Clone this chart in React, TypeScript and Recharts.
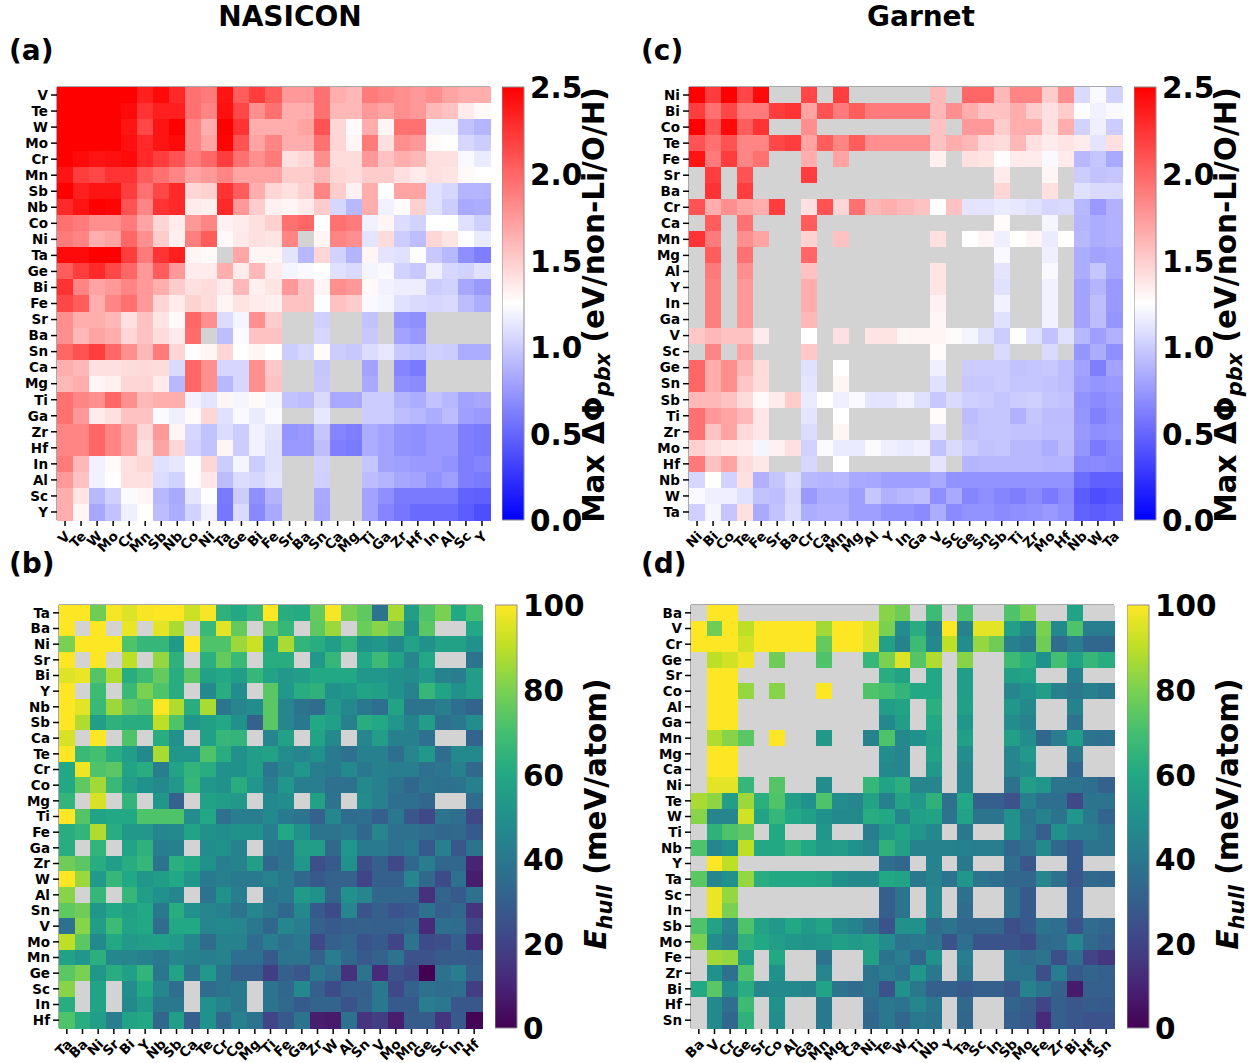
import { BarChart, Bar, Scatter, ScatterChart, XAxis, YAxis } from "recharts";

const _ = null;

const nasiconPbxLabels = ["V","Te","W","Mo","Cr","Mn","Sb","Nb","Co","Ni","Ta","Ge","Bi","Fe","Sr","Ba","Sn","Ca","Mg","Ti","Ga","Zr","Hf","In","Al","Sc","Y"];
const garnetPbxLabels = ["Ni","Bi","Co","Te","Fe","Sr","Ba","Cr","Ca","Mn","Mg","Al","Y","In","Ga","V","Sc","Ge","Sn","Sb","Ti","Zr","Mo","Hf","Nb","W","Ta"];
const nasiconHullLabels = ["Ta","Ba","Ni","Sr","Bi","Y","Nb","Sb","Ca","Te","Cr","Co","Mg","Ti","Fe","Ga","Zr","W","Al","Sn","V","Mo","Mn","Ge","Sc","In","Hf"];
const garnetHullLabels = ["Ba","V","Cr","Ge","Sr","Co","Al","Ga","Mn","Mg","Ca","Ni","Te","W","Ti","Nb","Y","Ta","Sc","In","Sb","Mo","Fe","Zr","Bi","Hf","Sn"];

// rows top to bottom
const nasiconPbx = [
  [2.5,2.5,2.5,2.5,2.5,2.35,2.45,2.3,1.95,1.9,2.4,2.05,2.2,2.05,1.75,1.75,1.95,1.65,1.6,1.9,1.85,1.8,1.75,1.8,1.7,1.65,1.65],
  [2.5,2.5,2.5,2.5,2.45,2.25,2.35,2.35,1.95,1.85,2.42,2.15,1.8,1.95,1.65,1.65,1.95,1.6,1.6,1.75,1.7,1.8,1.75,1.6,1.55,1.35,1.28],
  [2.5,2.5,2.5,2.5,2.4,2.15,2.4,2.5,1.85,1.65,2.5,2.25,1.65,1.65,1.65,1.7,2.1,1.45,1.28,1.65,1.3,1.95,1.95,1.18,1.18,0.95,0.88],
  [2.5,2.5,2.5,2.5,2.42,2.3,2.4,2.45,1.85,1.7,2.48,2.1,1.7,1.85,1.65,1.65,1.95,1.45,1.3,1.9,1.4,1.8,1.75,1.27,1.25,1.05,1.0],
  [2.5,2.45,2.4,2.42,2.45,2.3,2.2,2.1,1.9,2.0,2.2,1.95,1.8,1.9,1.4,1.45,1.8,1.42,1.42,1.75,1.55,1.65,1.6,1.4,1.4,1.22,1.15],
  [2.4,2.2,2.15,2.25,2.25,2.05,1.95,1.85,1.7,1.75,1.85,1.7,1.7,1.7,1.5,1.5,1.6,1.45,1.42,1.5,1.5,1.4,1.35,1.4,1.38,1.28,1.25],
  [2.5,2.35,2.4,2.4,2.2,1.95,2.15,2.3,1.45,1.48,2.25,2.05,1.65,1.45,1.4,1.48,1.85,1.5,1.32,1.65,1.25,1.7,1.7,1.1,1.05,0.88,0.88],
  [2.3,2.4,2.5,2.48,2.1,1.85,2.25,2.3,1.35,1.33,2.3,1.75,1.5,1.32,1.3,1.35,1.5,1.05,0.9,1.65,1.18,1.27,1.48,1.1,1.0,0.83,0.85],
  [1.95,1.9,1.8,1.8,1.9,1.7,1.45,1.35,1.75,1.85,1.32,1.35,1.4,1.48,1.95,2.0,1.25,1.95,1.9,1.18,1.3,1.08,1.03,1.25,1.25,1.1,1.02],
  [1.9,1.85,1.65,1.7,2.0,1.8,1.5,1.33,1.88,2.05,1.28,1.36,1.4,1.38,1.85,_,1.3,1.85,1.8,1.12,1.42,1.0,0.93,1.45,1.38,1.25,1.15],
  [2.45,2.45,2.5,2.5,2.2,1.9,2.25,2.35,1.3,1.28,_,1.68,1.3,1.3,1.12,0.9,1.45,1.03,0.88,1.3,1.12,1.1,1.24,0.98,0.9,0.7,0.62],
  [2.05,2.2,2.3,2.15,2.0,1.75,2.05,1.75,1.35,1.35,1.65,1.35,1.6,1.35,1.2,1.22,1.25,1.1,1.07,1.2,1.22,1.03,0.98,1.17,1.05,1.03,1.1],
  [2.25,1.85,1.7,1.75,1.85,1.75,1.65,1.5,1.4,1.42,1.35,1.6,1.33,1.38,1.75,1.55,1.3,1.8,1.75,1.28,1.18,1.16,1.16,1.0,1.03,0.82,0.75],
  [2.15,2.05,1.65,1.85,1.95,1.75,1.45,1.35,1.47,1.42,1.3,1.38,1.35,1.33,1.55,1.55,1.25,1.55,1.5,1.22,1.2,1.1,1.07,1.05,1.07,0.92,0.85],
  [1.8,1.65,1.65,1.6,1.4,1.55,1.38,1.28,2.0,1.8,1.08,1.2,1.8,1.5,_,_,1.02,_,_,0.95,_,0.73,0.7,_,_,_,_],
  [1.8,1.6,1.7,1.65,1.45,1.55,1.42,1.35,1.97,_,0.93,1.23,1.55,1.55,_,_,1.05,_,_,0.98,_,0.8,0.75,_,_,_,_],
  [2.0,2.1,2.2,2.0,1.8,1.6,1.9,1.45,1.26,1.3,1.45,1.25,1.3,1.25,1.0,1.05,1.27,1.0,0.98,1.08,1.13,0.98,0.95,1.02,1.0,0.85,0.85],
  [1.65,1.6,1.4,1.4,1.42,1.43,1.42,1.07,2.0,1.8,1.05,1.05,1.8,1.52,_,_,0.97,_,_,0.8,_,0.65,0.6,_,_,_,_],
  [1.6,1.65,1.3,1.33,1.45,1.45,1.35,0.9,2.0,1.8,0.9,1.05,1.8,1.55,_,_,0.98,_,_,0.83,_,0.7,0.68,_,_,_,_],
  [1.95,1.85,1.8,2.0,1.8,1.6,1.65,1.65,1.18,1.12,1.3,1.2,1.28,1.2,0.95,0.93,1.07,0.83,0.83,1.0,1.0,0.88,0.85,0.95,0.9,0.8,0.82],
  [1.95,1.75,1.35,1.4,1.55,1.55,1.23,1.17,1.28,1.45,1.1,1.22,1.15,1.23,_,_,1.13,_,_,1.0,1.0,0.93,0.9,0.85,0.92,0.78,0.75],
  [1.85,1.85,2.0,1.85,1.7,1.45,1.75,1.3,1.05,0.95,1.08,1.0,1.18,1.12,0.73,0.75,0.97,0.65,0.62,0.85,0.8,0.72,0.7,0.75,0.75,0.62,0.6],
  [1.85,1.85,2.0,1.85,1.7,1.4,1.7,1.45,1.03,0.95,1.3,1.0,1.18,1.1,0.75,0.75,0.93,0.62,0.6,0.85,0.8,0.72,0.7,0.75,0.75,0.62,0.6],
  [1.9,1.6,1.18,1.28,1.4,1.45,1.1,1.13,1.25,1.45,1.0,1.2,1.0,1.1,_,_,1.03,_,_,0.97,0.8,0.78,0.75,0.75,0.72,0.62,0.65],
  [1.75,1.55,1.18,1.25,1.4,1.4,1.08,1.03,1.26,1.37,0.92,1.08,1.05,1.12,_,_,1.02,_,_,0.92,0.88,0.82,0.8,0.72,0.78,0.62,0.6],
  [1.65,1.38,0.9,1.02,1.23,1.3,0.9,0.83,1.12,1.25,0.6,1.0,0.7,0.88,_,_,0.83,_,_,0.8,0.7,0.6,0.6,0.6,0.6,0.48,0.47],
  [1.65,1.3,0.82,0.95,1.17,1.25,0.92,0.85,1.03,1.18,0.58,1.07,0.67,0.83,_,_,0.82,_,_,0.8,0.65,0.58,0.52,0.52,0.52,0.45,0.38],
];

const garnetPbx = [
  [2.5,2.2,2.5,2.15,2.45,_,_,2.15,_,2.2,_,_,_,_,_,1.6,_,2.0,2.0,1.6,1.85,1.85,1.5,1.8,1.07,1.22,1.03],
  [2.2,1.95,2.15,1.9,1.9,2.2,2.25,1.7,2.1,1.9,2.05,1.9,1.9,1.9,1.9,1.6,1.8,1.65,1.55,1.55,1.65,1.5,1.4,1.5,1.25,1.18,1.22],
  [2.5,2.1,2.45,2.05,2.25,_,_,1.8,_,_,_,_,_,_,_,1.55,_,1.75,1.75,1.5,1.65,1.65,1.4,1.65,1.03,1.17,1.0],
  [2.1,1.95,2.1,1.85,1.85,2.15,2.2,1.7,2.05,1.85,2.05,1.8,1.8,1.8,1.8,1.55,1.65,1.6,1.45,1.42,1.6,1.4,1.35,1.38,1.35,1.12,1.4],
  [2.4,1.9,2.2,1.85,1.95,_,_,1.65,_,1.7,_,_,_,_,_,1.33,_,1.4,1.38,1.26,1.35,1.35,1.22,1.35,0.9,0.97,0.83],
  [_,2.2,_,2.1,_,_,_,2.2,_,_,_,_,_,_,_,_,_,_,_,1.35,_,_,1.3,_,1.0,0.95,0.97],
  [_,2.25,_,2.2,_,_,_,_,_,_,_,_,_,_,_,_,_,_,_,1.45,_,_,1.4,_,1.1,1.07,1.07],
  [2.1,1.65,1.8,1.7,1.65,2.2,_,1.4,2.1,1.45,1.95,1.6,1.65,1.6,1.55,1.25,1.55,1.12,1.12,1.15,1.13,1.1,1.05,1.07,0.9,0.75,0.87],
  [_,2.05,_,1.95,_,_,_,2.05,_,_,_,_,_,_,_,_,_,_,_,1.27,_,_,1.2,_,0.88,0.85,0.87],
  [2.25,1.9,_,1.8,1.7,_,_,1.47,_,1.55,_,_,_,_,_,1.4,_,1.25,1.3,1.17,1.25,1.3,1.15,1.25,0.9,0.85,0.87],
  [_,2.05,_,1.95,_,_,_,2.0,_,_,_,_,_,_,_,_,_,_,_,1.22,_,_,1.17,_,0.85,0.8,0.82],
  [_,1.9,_,1.8,_,_,_,1.55,_,_,_,_,_,_,_,1.38,_,_,_,1.12,_,_,1.22,_,0.85,0.97,0.82],
  [_,1.88,_,1.75,_,_,_,1.65,_,_,_,_,_,_,_,1.38,_,_,_,1.1,_,_,1.18,_,0.8,0.88,0.75],
  [_,1.88,_,1.75,_,_,_,1.65,_,_,_,_,_,_,_,1.32,_,_,_,1.18,_,_,1.18,_,0.8,0.93,0.75],
  [_,1.88,_,1.75,_,_,_,1.6,_,_,_,_,_,_,_,1.3,_,_,_,1.1,_,_,1.18,_,0.8,0.92,0.73],
  [1.52,1.6,1.55,1.55,1.35,_,_,1.25,_,1.4,_,1.38,1.38,1.3,1.3,1.3,1.27,1.2,1.1,1.0,1.25,1.1,0.95,1.1,0.9,0.78,0.87],
  [_,1.85,_,1.7,_,_,_,1.52,_,_,_,_,_,_,_,1.27,_,_,_,1.07,_,_,1.07,_,0.73,0.85,0.7],
  [2.0,1.65,1.8,1.6,1.42,_,_,1.1,_,1.25,_,_,_,_,_,1.17,_,1.0,1.0,1.0,0.95,0.97,0.98,0.93,0.8,0.62,0.8],
  [2.0,1.65,1.8,1.53,1.42,_,_,1.12,_,1.3,_,_,_,_,_,1.1,_,0.98,0.98,1.0,0.97,0.97,0.95,0.93,0.77,0.73,0.75],
  [1.6,1.6,1.55,1.42,1.28,1.35,1.5,1.15,1.25,1.17,1.22,1.12,1.12,1.18,1.1,0.98,1.07,1.02,1.0,0.97,1.0,1.02,0.97,0.95,0.72,0.68,0.72],
  [1.95,1.75,1.7,1.6,1.37,_,_,1.12,_,1.25,_,_,_,_,_,1.27,_,0.92,0.97,0.97,0.87,0.97,0.92,0.92,0.73,0.63,0.7],
  [1.95,1.55,1.7,1.43,1.37,_,_,1.08,_,1.3,_,_,_,_,_,1.12,_,0.95,0.97,0.97,0.95,0.95,0.93,0.93,0.75,0.7,0.72],
  [1.48,1.4,1.37,1.35,1.2,1.32,1.4,1.03,1.23,1.15,1.15,1.23,1.17,1.15,1.17,0.95,1.07,1.0,0.95,0.97,0.9,0.9,0.85,0.92,0.73,0.6,0.67],
  [1.9,1.55,1.7,1.42,1.37,_,_,1.05,_,1.25,_,_,_,_,_,1.12,_,0.88,0.9,0.9,0.9,0.9,0.88,0.88,0.67,0.68,0.65],
  [1.05,1.25,1.03,1.4,0.87,0.97,1.08,0.9,0.88,0.9,0.83,0.82,0.78,0.78,0.78,0.83,0.72,0.72,0.72,0.72,0.72,0.72,0.72,0.72,0.53,0.47,0.47],
  [1.22,1.17,1.17,1.1,0.95,0.93,1.05,0.75,0.85,0.85,0.78,0.97,0.87,0.9,0.93,0.7,0.83,0.65,0.7,0.65,0.62,0.68,0.6,0.68,0.45,0.38,0.42],
  [1.02,1.2,0.97,1.4,0.83,0.95,1.07,0.85,0.87,0.87,0.78,0.78,0.72,0.72,0.68,0.85,0.68,0.72,0.72,0.68,0.7,0.72,0.75,0.7,0.48,0.45,0.48],
];

const nasiconHull = [
  [100,100,78,99,95,99,100,100,92,99,64,60,66,100,62,61,76,99,80,75,38,87,55,72,80,60,70],
  [100,_,100,_,97,_,96,87,_,67,96,76,_,75,66,_,75,85,_,77,82,76,50,74,_,_,60],
  [80,100,100,100,72,66,66,54,100,72,72,85,92,60,87,65,62,55,64,50,52,47,58,50,57,57,50],
  [100,_,100,_,90,_,84,64,_,63,76,67,_,62,62,_,53,66,_,60,68,58,45,60,_,_,38],
  [95,97,73,88,62,68,76,62,74,57,60,55,66,58,53,55,60,60,60,52,52,50,48,53,44,42,55],
  [100,_,68,_,67,80,72,62,_,47,62,48,_,74,53,62,64,50,52,58,56,50,44,66,58,50,55],
  [100,96,67,85,75,72,100,88,62,87,39,45,48,74,45,38,35,53,47,40,36,58,38,38,42,36,32],
  [100,88,55,64,62,62,90,72,52,56,60,50,31,74,45,40,60,56,43,62,60,52,44,55,37,40,48],
  [94,_,100,_,72,_,62,50,_,56,66,65,_,45,57,_,58,47,_,45,55,43,43,37,_,_,32],
  [100,67,70,62,55,47,87,52,52,72,62,50,55,57,48,46,50,41,37,43,43,36,45,53,35,47,47],
  [60,98,72,74,58,62,42,58,65,62,50,50,55,39,46,52,42,41,47,40,43,42,42,37,39,43,34],
  [60,75,86,67,55,50,47,53,66,52,50,62,52,42,52,42,42,37,37,47,43,38,33,38,37,38,43],
  [65,_,94,_,65,_,52,31,_,57,55,53,_,47,48,_,57,38,_,48,43,36,36,33,_,_,35],
  [100,73,58,60,60,72,72,72,48,60,37,42,42,47,41,38,31,46,35,36,30,40,27,22,38,36,22],
  [62,65,88,62,53,53,46,47,58,50,48,50,50,42,60,50,38,38,41,33,45,37,37,35,33,34,28],
  [62,_,65,_,58,64,42,43,_,48,50,44,_,40,38,55,55,34,52,41,41,37,40,28,43,27,38],
  [78,74,62,55,62,66,38,63,60,50,42,44,55,33,38,52,24,28,50,24,30,22,33,42,33,33,10],
  [100,85,54,66,60,52,55,60,52,41,43,41,41,44,40,33,28,31,31,20,30,30,45,34,23,37,8],
  [82,_,66,_,66,55,50,46,_,38,50,42,_,38,40,54,50,32,50,45,33,33,33,14,32,28,37],
  [75,78,52,60,56,60,40,62,50,45,43,38,46,40,33,47,28,23,45,26,30,26,28,37,30,33,15],
  [37,82,55,68,58,60,35,60,60,45,47,45,40,33,46,42,31,28,30,31,30,30,33,12,36,35,22],
  [90,74,47,60,54,55,56,54,46,35,44,44,35,42,37,40,22,30,33,26,28,20,38,23,24,30,12],
  [57,52,63,46,45,43,40,46,44,42,44,36,36,28,38,38,31,42,34,28,31,38,25,25,29,29,28],
  [74,80,52,62,56,65,39,58,38,53,38,30,30,18,30,27,40,35,14,38,12,25,22,0,37,42,30],
  [82,_,58,_,48,60,46,36,_,35,38,40,_,38,33,47,30,23,30,30,40,22,31,37,35,36,18],
  [62,_,58,_,47,54,40,40,_,50,44,40,_,38,34,28,32,32,25,31,40,28,28,42,40,27,27],
  [72,62,55,42,58,60,33,55,30,50,33,43,38,20,28,38,8,7,37,15,18,8,29,29,15,28,1],
];

const garnetHull = [
  [_,100,100,_,_,_,_,_,_,_,_,_,82,78,_,68,_,72,_,_,72,80,_,_,58,_,_],
  [100,78,100,90,100,100,100,100,86,100,100,95,80,48,62,44,100,44,96,96,56,47,80,47,72,42,42],
  [100,100,100,93,100,100,100,100,76,100,100,95,57,44,68,47,90,48,84,78,43,40,78,35,42,33,33],
  [_,90,93,98,_,78,_,_,72,_,_,66,80,95,73,88,_,82,_,_,68,63,50,70,57,66,62],
  [_,100,100,_,_,_,_,_,_,_,_,_,62,58,_,60,_,55,_,_,56,58,_,_,43,_,_],
  [_,100,100,84,_,82,_,_,100,_,_,72,70,65,60,60,_,55,_,_,45,50,55,43,40,43,40],
  [_,100,100,_,_,_,_,_,_,_,_,_,55,58,_,63,_,56,_,_,52,47,_,_,44,_,_],
  [_,100,100,_,_,_,_,_,_,_,_,_,47,55,_,60,_,52,_,_,48,44,_,_,38,_,_],
  [_,88,82,74,_,100,_,_,53,_,_,44,72,47,50,56,_,56,_,_,56,48,33,42,55,38,37],
  [_,100,100,_,_,_,_,_,_,_,_,_,48,45,_,58,_,48,_,_,46,53,_,_,40,_,_],
  [_,100,100,_,_,_,_,_,_,_,_,_,47,45,_,53,_,45,_,_,45,48,_,_,33,_,_],
  [_,96,96,66,_,73,_,_,48,_,_,66,58,63,45,45,_,46,_,_,37,55,52,38,38,36,31],
  [87,83,55,85,63,72,56,50,72,48,46,58,43,58,53,64,37,60,30,30,25,43,36,36,22,38,38],
  [82,45,45,93,58,66,60,56,50,47,47,62,60,46,56,58,38,58,38,38,50,38,44,38,52,40,32],
  [_,64,72,75,_,60,_,_,52,_,_,42,52,58,52,47,_,40,_,_,50,40,30,50,42,42,38],
  [72,46,50,90,60,60,65,60,54,55,50,46,64,56,44,44,44,43,42,42,33,37,47,33,28,38,38],
  [_,100,90,_,_,_,_,_,_,_,_,_,36,33,_,44,_,40,_,_,36,27,_,_,28,_,_],
  [74,45,50,84,62,60,60,60,58,50,47,47,60,58,40,44,38,52,38,36,33,33,45,37,27,34,33],
  [_,97,84,_,_,_,_,_,_,_,_,_,30,38,_,45,_,37,_,_,37,28,_,_,30,_,_],
  [_,97,80,_,_,_,_,_,_,_,_,_,30,38,_,45,_,35,_,_,37,28,_,_,30,_,_],
  [72,58,45,72,58,53,60,54,58,47,44,37,26,50,50,35,38,33,33,33,24,28,38,36,26,35,33],
  [80,48,42,64,60,55,52,51,52,56,54,55,48,38,40,38,26,36,26,26,26,23,34,35,46,34,30],
  [_,86,84,55,_,60,_,_,38,_,_,57,38,42,33,50,_,42,_,_,38,35,38,24,36,20,16],
  [_,50,37,72,_,50,_,_,45,_,_,38,42,38,52,40,_,39,_,_,38,38,24,42,28,32,30],
  [60,74,48,62,45,47,47,44,58,38,35,38,25,50,40,30,30,28,30,30,27,44,38,31,7,30,30],
  [_,47,36,68,_,50,_,_,40,_,_,35,40,38,46,40,_,34,_,_,32,29,20,30,27,29,28],
  [_,47,33,64,_,48,_,_,40,_,_,33,40,33,40,38,_,33,_,_,30,28,12,30,27,25,26],
];

const pbxTicks = [0, 0.5, 1, 1.5, 2, 2.5];
const hullTicks = [0, 20, 40, 60, 80, 100];

const viridisStops = ["#440154","#482475","#414487","#355f8d","#2a788e","#21918c","#22a884","#44bf70","#7ad151","#bddf26","#fde725"];
const bwrStops = ["#0000ff", "#ffffff", "#ff0000"];

const FONT = "'DejaVu Sans', sans-serif";
const MISSING = "#d3d3d3";
const SPINE = "#8c8c8c";
const N = 27;

function hexToRgb(h: string) {
  return [1, 3, 5].map((i) => parseInt(h.slice(i, i + 2), 16));
}

function ramp(stops: string[], t: number) {
  const p = Math.min(Math.max(t, 0), 1) * (stops.length - 1);
  const i = Math.min(Math.floor(p), stops.length - 2);
  const a = hexToRgb(stops[i]);
  const b = hexToRgb(stops[i + 1]);
  const c = a.map((v, k) => Math.round(v + (b[k] - v) * (p - i)));
  return `rgb(${c.join(",")})`;
}

interface HeatmapProps {
  left: number;
  top: number;
  size: number;
  labels: string[];
  rows: (number | null)[][];
  stops: string[];
  max: number;
}

function Heatmap({ left, top, size, labels, rows, stops, max }: HeatmapProps) {
  const axisLeft = 50;
  const axisBottom = 34;
  const axisTop = 10;
  const axisRight = 10;
  const cell = size / N;

  const points = rows.flatMap((row, r) =>
    labels.map((_l, c) => ({ x: c + 0.5, y: r + 0.5, value: row[c] ?? null }))
  );
  const tickPos = labels.map((_l, i) => i + 0.5);
  const lineStyle = { stroke: "#000", strokeWidth: 1.5 };
  const spineStyle = { stroke: SPINE, strokeWidth: 1.5 };

  const renderCell = (p: any) => (
    <rect
      x={p.cx - cell / 2}
      y={p.cy - cell / 2}
      width={cell + 0.5}
      height={cell + 0.5}
      fill={p.payload.value === null ? MISSING : ramp(stops, p.payload.value / max)}
      shapeRendering="crispEdges"
    />
  );

  const renderXTick = (p: any) => {
    const px = p.x + 6;
    const py = p.y + 9;
    return (
      <text
        x={px}
        y={py}
        textAnchor="end"
        fontFamily={FONT}
        fontWeight="bold"
        fontSize={13.5}
        fill="#000"
        transform={`rotate(-45 ${px} ${py})`}
      >
        {labels[Math.floor(p.payload.value)]}
      </text>
    );
  };

  return (
    <div style={{ position: "absolute", left: left - axisLeft, top: top - axisTop }}>
      <ScatterChart
        width={size + axisLeft + axisRight}
        height={size + axisTop + axisBottom}
        margin={{ top: 0, right: 0, bottom: 0, left: 0 }}
        style={{ overflow: "visible" }}
      >
        <XAxis
          xAxisId="bottom"
          type="number"
          dataKey="x"
          domain={[0, N]}
          ticks={tickPos}
          interval={0}
          height={axisBottom}
          tickSize={6}
          axisLine={spineStyle}
          tickLine={lineStyle}
          tick={renderXTick}
        />
        <XAxis
          xAxisId="top"
          orientation="top"
          type="number"
          dataKey="x"
          domain={[0, N]}
          ticks={tickPos}
          interval={0}
          height={axisTop}
          tickSize={6}
          axisLine={spineStyle}
          tickLine={lineStyle}
          tick={false}
        />
        <YAxis
          yAxisId="left"
          type="number"
          dataKey="y"
          domain={[0, N]}
          reversed
          ticks={tickPos}
          interval={0}
          width={axisLeft}
          tickSize={6}
          tickMargin={3}
          axisLine={spineStyle}
          tickLine={lineStyle}
          tick={{ fontFamily: FONT, fontWeight: "bold", fontSize: 13.5, fill: "#000" }}
          tickFormatter={(v: number) => labels[Math.floor(v)]}
        />
        <YAxis
          yAxisId="right"
          orientation="right"
          type="number"
          dataKey="y"
          domain={[0, N]}
          reversed
          ticks={tickPos}
          interval={0}
          width={axisRight}
          tickSize={6}
          axisLine={spineStyle}
          tickLine={lineStyle}
          tick={false}
        />
        <Scatter
          data={points}
          xAxisId="bottom"
          yAxisId="left"
          isAnimationActive={false}
          shape={renderCell}
        />
      </ScatterChart>
    </div>
  );
}

interface ColorbarProps {
  id: string;
  left: number;
  top: number;
  height: number;
  stops: string[];
  max: number;
  ticks: number[];
}

function Colorbar({ id, left, top, height, stops, max, ticks }: ColorbarProps) {
  const barWidth = 22;
  const axisWidth = 70;
  const pad = 18;
  return (
    <div style={{ position: "absolute", left, top: top - pad }}>
      <BarChart
        width={barWidth + axisWidth}
        height={height + pad * 2}
        data={[{ name: "scale", value: max }]}
        margin={{ top: pad, right: 0, bottom: pad, left: 0 }}
        barCategoryGap={0}
      >
        <defs>
          <linearGradient id={id} x1="0" y1="1" x2="0" y2="0">
            {stops.map((c, i) => (
              <stop key={c} offset={i / (stops.length - 1)} stopColor={c} />
            ))}
          </linearGradient>
        </defs>
        <XAxis dataKey="name" hide />
        <YAxis
          orientation="right"
          type="number"
          domain={[0, max]}
          ticks={ticks}
          interval={0}
          width={axisWidth}
          tickSize={6}
          tickMargin={0}
          axisLine={false}
          tickLine={false}
          tick={{ fontFamily: FONT, fontWeight: "bold", fontSize: 29.5, fill: "#000", dy: 1 }}
          tickFormatter={(v: number) => (max === 100 ? `${v}` : v.toFixed(1))}
        />
        <Bar dataKey="value" fill={`url(#${id})`} stroke={SPINE} strokeWidth={1} isAnimationActive={false} />
      </BarChart>
    </div>
  );
}

function PbxLabel({ x, y }: { x: number; y: number }) {
  return (
    <text
      transform={`translate(${x} ${y}) rotate(-90)`}
      textAnchor="middle"
      fontFamily={FONT}
      fontWeight="bold"
      fontSize={29.5}
    >
      Max ΔΦ
      <tspan fontStyle="italic" fontSize={21} dy={6}>pbx</tspan>
      <tspan dy={-6}> (eV/non-Li/O/H)</tspan>
    </text>
  );
}

function HullLabel({ x, y }: { x: number; y: number }) {
  return (
    <text
      transform={`translate(${x} ${y}) rotate(-90)`}
      textAnchor="middle"
      fontFamily={FONT}
      fontWeight="bold"
      fontSize={29.5}
    >
      <tspan fontStyle="italic">E</tspan>
      <tspan fontStyle="italic" fontSize={21} dy={6}>hull</tspan>
      <tspan dy={-6}> (meV/atom)</tspan>
    </text>
  );
}

export default function App() {
  const panelLabel = { fontFamily: FONT, fontWeight: "bold", fontSize: 28 };
  return (
    <div style={{ position: "absolute", left: 0, top: 0, width: 1256, height: 1063, overflow: "hidden", background: "#fff" }}>
      <svg width={1256} height={1063} style={{ position: "absolute", left: 0, top: 0 }}>
        <text x={290} y={26} textAnchor="middle" {...panelLabel}>NASICON</text>
        <text x={921} y={26} textAnchor="middle" {...panelLabel}>Garnet</text>
        <text x={9} y={60} {...panelLabel}>(a)</text>
        <text x={641} y={60} {...panelLabel}>(c)</text>
        <text x={9} y={573} {...panelLabel}>(b)</text>
        <text x={641} y={573} {...panelLabel}>(d)</text>
        <PbxLabel x={604} y={305} />
        <PbxLabel x={1236} y={305} />
        <HullLabel x={606} y={814} />
        <HullLabel x={1238} y={814} />
      </svg>

      <Heatmap left={56.5} top={87} size={433} labels={nasiconPbxLabels} rows={nasiconPbx} stops={bwrStops} max={2.5} />
      <Heatmap left={688.5} top={87} size={433} labels={garnetPbxLabels} rows={garnetPbx} stops={bwrStops} max={2.5} />
      <Heatmap left={59} top={605} size={423} labels={nasiconHullLabels} rows={nasiconHull} stops={viridisStops} max={100} />
      <Heatmap left={691} top={605} size={423} labels={garnetHullLabels} rows={garnetHull} stops={viridisStops} max={100} />

      <Colorbar id="cbarA" left={502} top={87} height={433} stops={bwrStops} max={2.5} ticks={pbxTicks} />
      <Colorbar id="cbarC" left={1134} top={87} height={433} stops={bwrStops} max={2.5} ticks={pbxTicks} />
      <Colorbar id="cbarB" left={495} top={605} height={423} stops={viridisStops} max={100} ticks={hullTicks} />
      <Colorbar id="cbarD" left={1127} top={605} height={423} stops={viridisStops} max={100} ticks={hullTicks} />
    </div>
  );
}
